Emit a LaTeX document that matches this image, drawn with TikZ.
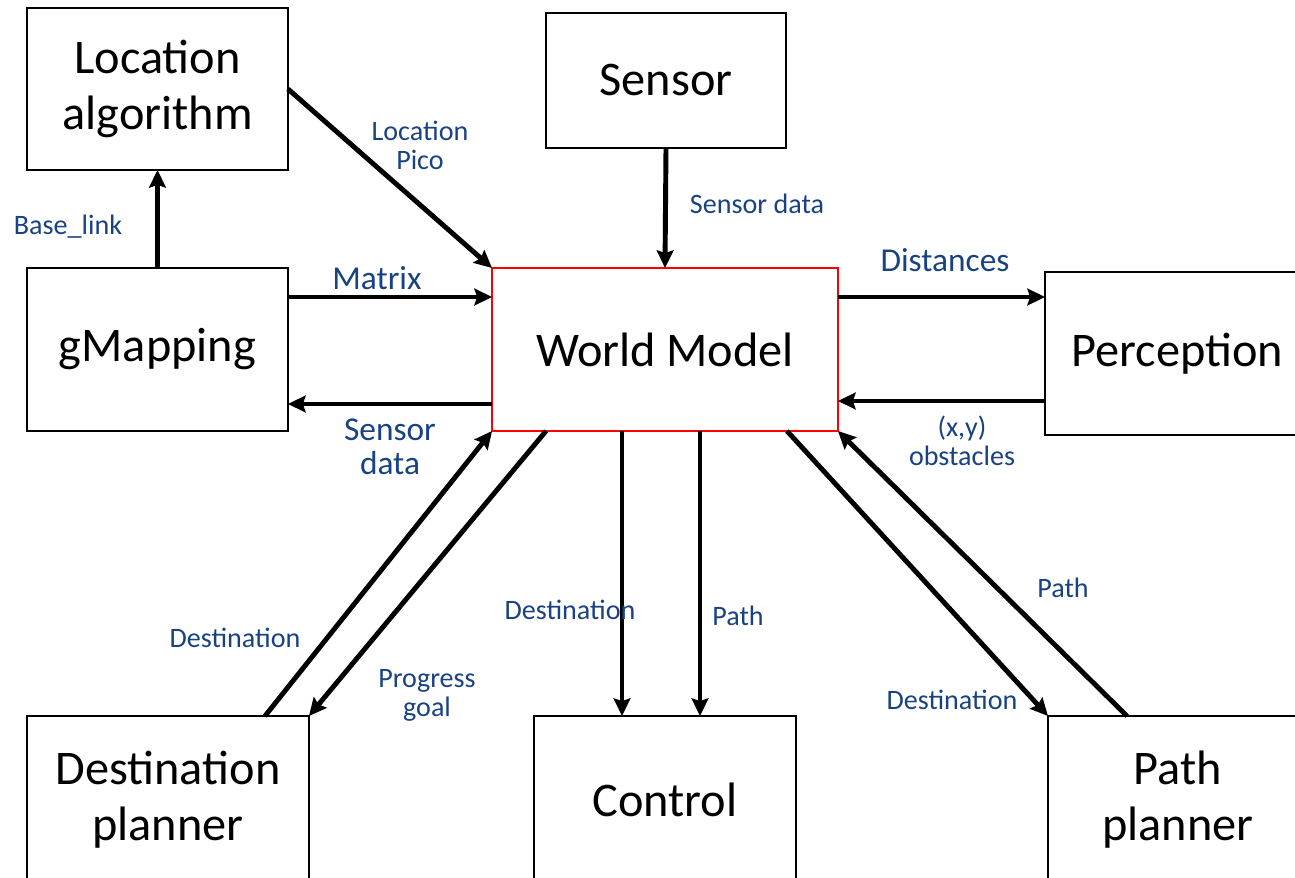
\documentclass[tikz,border=0pt]{standalone}
\usepackage{fontspec}
\setmainfont{Carlito}
\usetikzlibrary{arrows.meta,positioning}

\definecolor{labelblue}{RGB}{24,66,130}

\tikzset{
    block/.style={draw, line width=0.8pt, fill=white, inner sep=0pt, outer sep=0pt,
                  align=center, font=\fontsize{27.5}{32}\selectfont},
    flow/.style={-{Stealth[length=10pt,width=9.5pt,inset=1.5pt]}, line width=2.8pt},
    lbl/.style={text=labelblue, align=center, inner sep=0pt, font=\fontsize{16}{16.5}\selectfont},
    biglbl/.style={lbl, font=\fontsize{19}{19.5}\selectfont}
}

\begin{document}
\begin{tikzpicture}[x=0.02cm,y=-0.02cm]
    \useasboundingbox (0,0) rectangle (1295,878);
    \clip (0,0) rectangle (1295,878);

    % blocks
    \node[block, minimum width=5.22cm, minimum height=3.24cm] (loc)    at (157.5,89)   {Location\\algorithm};
    \node[block, minimum width=4.8cm,  minimum height=2.7cm]  (sensor) at (666,80.5)   {Sensor};
    \node[block, minimum width=5.22cm, minimum height=3.26cm] (gmap)   at (157.5,349.5) {gMapping};
    \node[block, draw=red, minimum width=6.92cm, minimum height=3.26cm] (wm) at (665,349.5) {World Model};
    \node[block, minimum width=5.3cm,  minimum height=3.26cm] (perc)   at (1177.5,353.5) {Perception};
    \node[block, minimum width=5.64cm, minimum height=3.36cm] (dest)   at (168,800)    {Destination\\planner};
    \node[block, minimum width=5.24cm, minimum height=3.36cm] (ctrl)   at (665,800)    {Control};
    \node[block, minimum width=5.2cm,  minimum height=3.36cm] (path)   at (1178,800)   {Path\\planner};

    % connectors
    \draw[flow] (loc.east) -- (wm.north west);
    \draw[flow] (sensor.south) -- (wm.north);
    \draw[flow] (gmap.north) -- (loc.south);
    \draw[flow] ([yshift=1.05cm]gmap.east) -- ([yshift=1.05cm]wm.west);
    \draw[flow] ([yshift=-1.09cm]wm.west) -- ([yshift=-1.09cm]gmap.east);
    \draw[flow] ([yshift=1.05cm]wm.east) -- ([yshift=1.05cm]wm.east -| perc.west);
    \draw[flow] ([yshift=-0.95cm]perc.west) -- ([yshift=-0.95cm]perc.west -| wm.east);
    \draw[flow] ([xshift=1.94cm]dest.north) -- (wm.south west);
    \draw[flow] ([xshift=1.08cm]wm.south west) -- (dest.north east);
    \draw[flow] ([xshift=-0.86cm]wm.south) -- ([xshift=-0.86cm]wm.south |- ctrl.north);
    \draw[flow] ([xshift=0.7cm]wm.south) -- ([xshift=0.7cm]wm.south |- ctrl.north);
    \draw[flow] ([xshift=-1.02cm]wm.south east) -- (path.north west);
    \draw[flow] ([xshift=1.58cm]path.north west) -- (wm.south east);

    % labels
    \node[lbl]    (l-locpico)  at (420,145) {Location\\Pico};
    \node[lbl]    (l-sensdata) at (757,204) {Sensor data};
    \node[lbl]    (l-baselink) at (68,227)  {Base\_link};
    \node[biglbl] (l-matrix)   at (377,278) {Matrix};
    \node[biglbl] (l-sensback) at (390,447) {Sensor\\data};
    \node[biglbl] (l-dist)     at (945,260) {Distances};
    \node[lbl]    (l-obst)     at (962,441) {(x,y)\\obstacles};
    \node[lbl]    (l-destwm)   at (235,638) {Destination};
    \node[lbl]    (l-progress) at (427,695) {Progress\\goal};
    \node[lbl]    (l-destctrl) at (570,610) {Destination};
    \node[lbl]    (l-pathctrl) at (738,616) {Path};
    \node[lbl]    (l-destpath) at (952,700) {Destination};
    \node[lbl]    (l-pathwm)   at (1063,588) {Path};
\end{tikzpicture}
\end{document}
